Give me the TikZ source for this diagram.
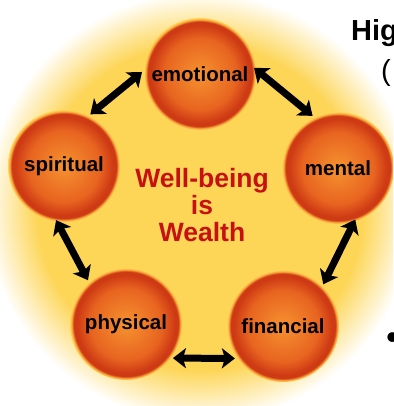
\documentclass[tikz,border=0pt]{standalone}
\usepackage{fontspec}
\setmainfont{Liberation Sans}
\usetikzlibrary{arrows.meta}
\definecolor{glowyellow}{RGB}{253,214,88}
\definecolor{ballcore}{RGB}{246,146,48}
\definecolor{ballmid}{RGB}{232,100,32}
\definecolor{balledge}{RGB}{206,58,20}
\definecolor{ballhalo}{RGB}{248,160,56}
\definecolor{wealthred}{RGB}{198,16,20}
\pgfdeclareradialshading{ballshade}{\pgfpoint{0bp}{0bp}}{color(0bp)=(ballcore); color(16bp)=(ballmid); color(22bp)=(balledge); color(23.4bp)=(balledge); color(24.2bp)=(ballhalo); color(25bp)=(glowyellow); color(50bp)=(glowyellow)}
\pgfdeclareradialshading{sunglow}{\pgfpoint{0bp}{0bp}}{color(0bp)=(glowyellow); color(19bp)=(glowyellow); color(25bp)=(white); color(50bp)=(white)}
\begin{document}
\begin{tikzpicture}[x=1pt,y=-1pt,
        ball/.style={circle,shade,shading=ballshade,minimum size=112pt,inner sep=0pt,outer sep=2pt,
            font=\fontsize{20.5}{24}\selectfont\bfseries},
        link/.style={line width=7pt,
            {Stealth[length=13pt,width=20pt,inset=3pt]}-{Stealth[length=13pt,width=20pt,inset=3pt]}}]
        \useasboundingbox (0,0) rectangle (393,406);
        \clip (0,0) rectangle (393,406);
        \fill [white] (0,0) rectangle (393,406);
        \shade [shading=sunglow] (200,207) circle (215pt);
        \node (emotional) [ball] at (200,74) {emotional};
        \node (mental) [ball] at (338,168) {mental};
        \node (financial) [ball] at (283,326) {financial};
        \node (physical) [ball] at (126,324) {physical};
        \node (spiritual) [ball] at (64,166) {spiritual};
        \node (slogan) [align=center,text=wealthred,
            font=\fontsize{26.5}{27}\selectfont\bfseries] at (202,205) {Well-being\\is\\Wealth};
        \draw [link] (emotional.178) -- (spiritual.63);
        \draw [link,shorten <=-5pt] (emotional.3) -- (mental.116);
        \draw [link,shorten <=-4pt] (spiritual.264) -- (physical.131);
        \draw [link,shorten <=-5pt] (mental.285) -- (financial.46);
        \draw [link] (physical.-36) -- (financial.214);
        \node (heading) [anchor=base west,inner sep=0pt,
            font=\fontsize{29}{34}\selectfont\bfseries] at (351,41) {Hig};
        \node (paren) [anchor=base west,inner sep=0pt,
            font=\fontsize{29}{34}\selectfont] at (381,81) {(};
        \node (bullet) [anchor=base west,inner sep=0pt,
            font=\fontsize{36}{40}\selectfont] at (386,349) {•};
    \end{tikzpicture}
\end{document}
